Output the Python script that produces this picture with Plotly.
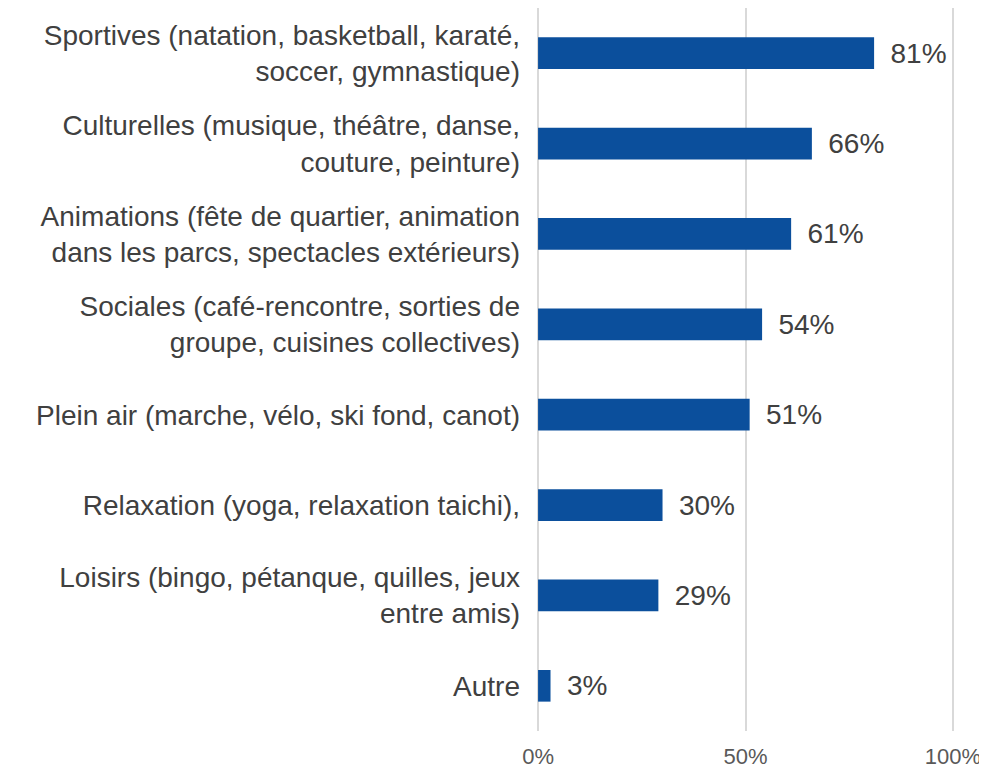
import plotly.graph_objects as go

# activity categories (top to bottom) and share of respondents
categories = [
    "Sportives (natation, basketball, karaté,<br>soccer, gymnastique)",
    "Culturelles (musique, théâtre, danse,<br>couture, peinture)",
    "Animations (fête de quartier, animation<br>dans les parcs, spectacles extérieurs)",
    "Sociales (café-rencontre, sorties de<br>groupe, cuisines collectives)",
    "Plein air (marche, vélo, ski fond, canot)",
    "Relaxation (yoga, relaxation taichi),",
    "Loisirs (bingo, pétanque, quilles, jeux<br>entre amis)",
    "Autre",
]
values = [81, 66, 61, 54, 51, 30, 29, 3]
tick_vals = [0, 50, 100]
tick_text = ["0%", "50%", "100%"]

fig = go.Figure(go.Bar(
    x=values,
    y=categories,
    orientation="h",
    marker=dict(color="#0B4F9C", line=dict(width=0)),
    width=0.35,
    text=[f"\u00a0\u2009{v}%" for v in values],
    textposition="outside",
    textfont=dict(size=28, color="#404040"),
    cliponaxis=False,
))

# page body has an 8px margin, so the figure is sized to fit inside it
fig.update_layout(
    width=979,
    height=763,
    margin=dict(l=528, r=32, t=0, b=40),
    plot_bgcolor="white",
    paper_bgcolor="white",
    font=dict(family="Liberation Sans, Arial, sans-serif", color="#404040"),
    showlegend=False,
)
fig.update_xaxes(
    range=[-0.5, 100.5],
    tickvals=tick_vals,
    ticktext=tick_text,
    showgrid=True,
    gridcolor="#D9D9D9",
    gridwidth=1.5,
    zeroline=False,
    tickfont=dict(size=22, color="#595959"),
    ticks="",
    ticklabelstandoff=10,
    automargin=False,
)
fig.update_yaxes(
    autorange="reversed",
    tickfont=dict(size=28, color="#404040"),
    ticks="",
    ticklabelstandoff=15,
    showline=False,
    automargin=False,
)

fig.write_html("out.html")
